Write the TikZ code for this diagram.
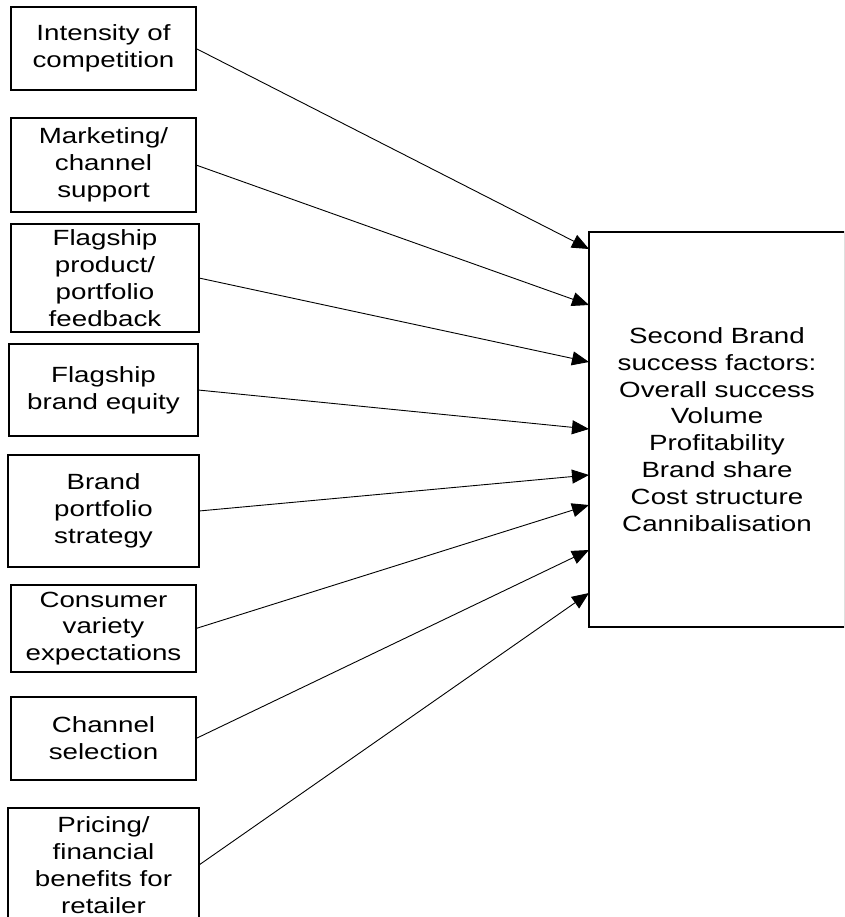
\documentclass[tikz,border=0pt]{standalone}
\usepackage{fontspec}
\setmainfont{Liberation Sans}[FakeStretch=1.26]
\usetikzlibrary{arrows.meta}
\begin{document}
\begin{tikzpicture}[x=1pt,y=-1pt,
  box/.style={draw=black, line width=1.1pt, inner sep=0pt, outer sep=0pt, align=center,
    font=\fontsize{22}{26.9}\selectfont},
  conn/.style={draw=black, line width=0.9pt, -{Triangle[length=17pt,width=14pt]}}]
\useasboundingbox (0,0) rectangle (844,917);
\clip (0,0) rectangle (844,917);
\node[box, minimum width=185pt, minimum height=83pt] (b1) at (103.5,48.5) {Intensity of\\competition};
\node[box, minimum width=185pt, minimum height=94pt] (b2) at (103.5,165) {Marketing/\\channel\\support};
\node[box, minimum width=188pt, minimum height=108pt] (b3) at (105,278) {Flagship\\product/\\portfolio\\feedback};
\node[box, minimum width=189pt, minimum height=92pt] (b4) at (103.5,390) {Flagship\\brand equity};
\node[box, minimum width=191pt, minimum height=112pt] (b5) at (103.5,511) {Brand\\portfolio\\strategy};
\node[box, minimum width=185pt, minimum height=87pt] (b6) at (103.5,628.5) {Consumer\\variety\\expectations};
\node[box, minimum width=185pt, minimum height=83pt] (b7) at (103.5,738.5) {Channel\\selection};
\node[box, minimum width=191pt, minimum height=114pt] (b8) at (103.5,865) {Pricing/\\financial\\benefits for\\retailer};
\node[box, minimum width=256pt, minimum height=395pt] (r) at (717,429.5) {Second Brand\\success factors:\\Overall success\\Volume\\Profitability\\Brand share\\Cost structure\\Cannibalisation};
\coordinate (t1) at (589,249);
\coordinate (t2) at (589,305);
\coordinate (t3) at (589,362);
\coordinate (t4) at (589,429);
\coordinate (t5) at (589,475);
\coordinate (t6) at (589,505);
\coordinate (t7) at (589,550);
\coordinate (t8) at (589,593);
\draw[conn] (b1.east) -- (t1);
\draw[conn] (b2.east) -- (t2);
\draw[conn] (b3.east) -- (t3);
\draw[conn] (b4.east) -- (t4);
\draw[conn] (b5.east) -- (t5);
\draw[conn] (b6.east) -- (t6);
\draw[conn] (b7.east) -- (t7);
\draw[conn] (b8.east) -- (t8);
\end{tikzpicture}
\end{document}
